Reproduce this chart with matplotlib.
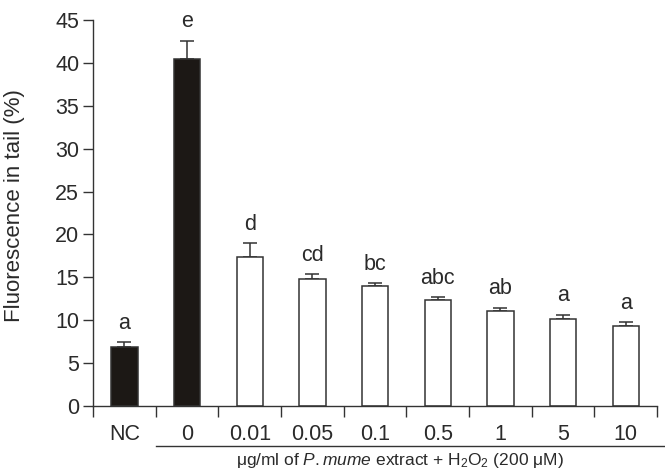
import numpy as np
import matplotlib
matplotlib.use("Agg")
import matplotlib.pyplot as plt
from matplotlib.lines import Line2D

# data
groups = ["NC", "0", "0.01", "0.05", "0.1", "0.5", "1", "5", "10"]
means = [6.9, 40.4, 17.4, 14.8, 14.0, 12.3, 11.05, 10.15, 9.35]
errs = [0.55, 2.2, 1.6, 0.6, 0.35, 0.4, 0.4, 0.5, 0.4]
letters = ["a", "e", "d", "cd", "bc", "abc", "ab", "a", "a"]
filled = [True, True, False, False, False, False, False, False, False]

plt.rcParams["font.family"] = ["Liberation Sans", "DejaVu Sans"]
plt.rcParams["mathtext.fontset"] = "custom"
plt.rcParams["mathtext.rm"] = "Liberation Sans"
plt.rcParams["mathtext.it"] = "Liberation Sans:italic"
txt = "#2a2a2a"
ink = "#1c1815"
fs = 15.5

fig = plt.figure(figsize=(6.65, 4.71), dpi=100)
ax = fig.add_axes([0.14, 0.138, 0.848, 0.8195])

x = np.arange(len(groups))
faces = [ink if f else "white" for f in filled]
ax.bar(x, means, width=0.42, color=faces, edgecolor="#333333", linewidth=1.1, zorder=2)
ax.errorbar(x, means, yerr=[np.zeros(len(errs)), errs], fmt="none",
            ecolor="#333333", elinewidth=1.1, capsize=5, capthick=1.1, zorder=1)

for xi, m, e, lab in zip(x, means, errs, letters):
    ax.annotate(lab, (xi, m + e), xytext=(0, 6), textcoords="offset points",
                ha="center", va="bottom", fontsize=fs, color=txt)

ax.set_xlim(-0.5, 8.5)
ax.set_ylim(0, 45)
ax.set_yticks(np.arange(0, 46, 5))
ax.set_xticks(x)
ax.set_xticklabels(groups)
ax.set_xticks(np.arange(-0.5, 8.6, 1), minor=True)
ax.tick_params(axis="x", which="major", length=0, pad=13, labelsize=fs, colors=txt)
ax.tick_params(axis="x", which="minor", length=8, width=1, color="#333333", direction="out")
ax.tick_params(axis="y", length=7, width=1, pad=3, labelsize=fs, colors=txt, color="#333333")
for s in ["top", "right"]:
    ax.spines[s].set_visible(False)
for s in ["left", "bottom"]:
    ax.spines[s].set_color("#333333")
    ax.spines[s].set_linewidth(1)

ax.set_ylabel("Fluorescence in tail (%)", fontsize=16, color=txt)
ax.yaxis.set_label_coords(-0.12, 0.518)

# group underline and label
trans = ax.get_xaxis_transform()
ax.add_line(Line2D([0.5, 8.7], [-0.104, -0.104], transform=trans, color="#333333",
                   linewidth=1, clip_on=False))
ax.text(4.4, -0.166, "μg/ml of $\\it{P. mume}$ extract + H$_2$O$_2$ (200 μM)",
        transform=trans, ha="center", va="bottom", fontsize=12.5, color=txt)

fig.savefig("out.png", dpi=100)
